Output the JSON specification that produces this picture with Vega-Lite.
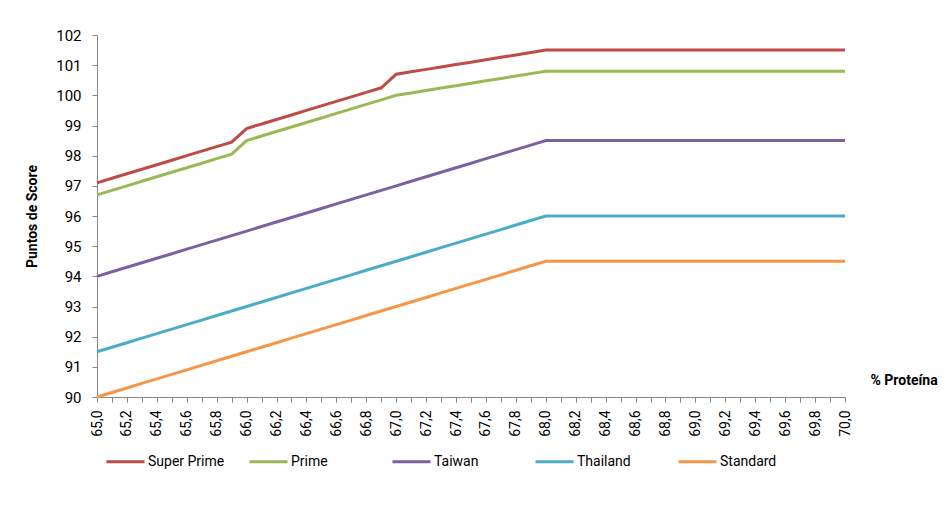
{
  "$schema": "https://vega.github.io/schema/vega-lite/v6.json",
  "width": 748,
  "height": 362,
  "autosize": {"type": "none"},
  "padding": {"left": 97, "top": 35, "right": 105, "bottom": 124},
  "background": "white",
  "config": {"view": {"stroke": null}, "font": "Roboto"},
  "data": {"values": [
    {"p":"65,0","Super Prime":97.10,"Prime":96.70,"Taiwan":94.00,"Thailand":91.50,"Standard":90.00},
    {"p":"65,1","Super Prime":97.25,"Prime":96.85,"Taiwan":94.15,"Thailand":91.65,"Standard":90.15},
    {"p":"65,2","Super Prime":97.40,"Prime":97.00,"Taiwan":94.30,"Thailand":91.80,"Standard":90.30},
    {"p":"65,3","Super Prime":97.55,"Prime":97.15,"Taiwan":94.45,"Thailand":91.95,"Standard":90.45},
    {"p":"65,4","Super Prime":97.70,"Prime":97.30,"Taiwan":94.60,"Thailand":92.10,"Standard":90.60},
    {"p":"65,5","Super Prime":97.85,"Prime":97.45,"Taiwan":94.75,"Thailand":92.25,"Standard":90.75},
    {"p":"65,6","Super Prime":98.00,"Prime":97.60,"Taiwan":94.90,"Thailand":92.40,"Standard":90.90},
    {"p":"65,7","Super Prime":98.15,"Prime":97.75,"Taiwan":95.05,"Thailand":92.55,"Standard":91.05},
    {"p":"65,8","Super Prime":98.30,"Prime":97.90,"Taiwan":95.20,"Thailand":92.70,"Standard":91.20},
    {"p":"65,9","Super Prime":98.45,"Prime":98.05,"Taiwan":95.35,"Thailand":92.85,"Standard":91.35},
    {"p":"66,0","Super Prime":98.90,"Prime":98.50,"Taiwan":95.50,"Thailand":93.00,"Standard":91.50},
    {"p":"66,1","Super Prime":99.05,"Prime":98.65,"Taiwan":95.65,"Thailand":93.15,"Standard":91.65},
    {"p":"66,2","Super Prime":99.20,"Prime":98.80,"Taiwan":95.80,"Thailand":93.30,"Standard":91.80},
    {"p":"66,3","Super Prime":99.35,"Prime":98.95,"Taiwan":95.95,"Thailand":93.45,"Standard":91.95},
    {"p":"66,4","Super Prime":99.50,"Prime":99.10,"Taiwan":96.10,"Thailand":93.60,"Standard":92.10},
    {"p":"66,5","Super Prime":99.65,"Prime":99.25,"Taiwan":96.25,"Thailand":93.75,"Standard":92.25},
    {"p":"66,6","Super Prime":99.80,"Prime":99.40,"Taiwan":96.40,"Thailand":93.90,"Standard":92.40},
    {"p":"66,7","Super Prime":99.95,"Prime":99.55,"Taiwan":96.55,"Thailand":94.05,"Standard":92.55},
    {"p":"66,8","Super Prime":100.10,"Prime":99.70,"Taiwan":96.70,"Thailand":94.20,"Standard":92.70},
    {"p":"66,9","Super Prime":100.25,"Prime":99.85,"Taiwan":96.85,"Thailand":94.35,"Standard":92.85},
    {"p":"67,0","Super Prime":100.70,"Prime":100.00,"Taiwan":97.00,"Thailand":94.50,"Standard":93.00},
    {"p":"67,1","Super Prime":100.78,"Prime":100.08,"Taiwan":97.15,"Thailand":94.65,"Standard":93.15},
    {"p":"67,2","Super Prime":100.86,"Prime":100.16,"Taiwan":97.30,"Thailand":94.80,"Standard":93.30},
    {"p":"67,3","Super Prime":100.94,"Prime":100.24,"Taiwan":97.45,"Thailand":94.95,"Standard":93.45},
    {"p":"67,4","Super Prime":101.02,"Prime":100.32,"Taiwan":97.60,"Thailand":95.10,"Standard":93.60},
    {"p":"67,5","Super Prime":101.10,"Prime":100.40,"Taiwan":97.75,"Thailand":95.25,"Standard":93.75},
    {"p":"67,6","Super Prime":101.18,"Prime":100.48,"Taiwan":97.90,"Thailand":95.40,"Standard":93.90},
    {"p":"67,7","Super Prime":101.26,"Prime":100.56,"Taiwan":98.05,"Thailand":95.55,"Standard":94.05},
    {"p":"67,8","Super Prime":101.34,"Prime":100.64,"Taiwan":98.20,"Thailand":95.70,"Standard":94.20},
    {"p":"67,9","Super Prime":101.42,"Prime":100.72,"Taiwan":98.35,"Thailand":95.85,"Standard":94.35},
    {"p":"68,0","Super Prime":101.50,"Prime":100.80,"Taiwan":98.50,"Thailand":96.00,"Standard":94.50},
    {"p":"68,1","Super Prime":101.50,"Prime":100.80,"Taiwan":98.50,"Thailand":96.00,"Standard":94.50},
    {"p":"68,2","Super Prime":101.50,"Prime":100.80,"Taiwan":98.50,"Thailand":96.00,"Standard":94.50},
    {"p":"68,3","Super Prime":101.50,"Prime":100.80,"Taiwan":98.50,"Thailand":96.00,"Standard":94.50},
    {"p":"68,4","Super Prime":101.50,"Prime":100.80,"Taiwan":98.50,"Thailand":96.00,"Standard":94.50},
    {"p":"68,5","Super Prime":101.50,"Prime":100.80,"Taiwan":98.50,"Thailand":96.00,"Standard":94.50},
    {"p":"68,6","Super Prime":101.50,"Prime":100.80,"Taiwan":98.50,"Thailand":96.00,"Standard":94.50},
    {"p":"68,7","Super Prime":101.50,"Prime":100.80,"Taiwan":98.50,"Thailand":96.00,"Standard":94.50},
    {"p":"68,8","Super Prime":101.50,"Prime":100.80,"Taiwan":98.50,"Thailand":96.00,"Standard":94.50},
    {"p":"68,9","Super Prime":101.50,"Prime":100.80,"Taiwan":98.50,"Thailand":96.00,"Standard":94.50},
    {"p":"69,0","Super Prime":101.50,"Prime":100.80,"Taiwan":98.50,"Thailand":96.00,"Standard":94.50},
    {"p":"69,1","Super Prime":101.50,"Prime":100.80,"Taiwan":98.50,"Thailand":96.00,"Standard":94.50},
    {"p":"69,2","Super Prime":101.50,"Prime":100.80,"Taiwan":98.50,"Thailand":96.00,"Standard":94.50},
    {"p":"69,3","Super Prime":101.50,"Prime":100.80,"Taiwan":98.50,"Thailand":96.00,"Standard":94.50},
    {"p":"69,4","Super Prime":101.50,"Prime":100.80,"Taiwan":98.50,"Thailand":96.00,"Standard":94.50},
    {"p":"69,5","Super Prime":101.50,"Prime":100.80,"Taiwan":98.50,"Thailand":96.00,"Standard":94.50},
    {"p":"69,6","Super Prime":101.50,"Prime":100.80,"Taiwan":98.50,"Thailand":96.00,"Standard":94.50},
    {"p":"69,7","Super Prime":101.50,"Prime":100.80,"Taiwan":98.50,"Thailand":96.00,"Standard":94.50},
    {"p":"69,8","Super Prime":101.50,"Prime":100.80,"Taiwan":98.50,"Thailand":96.00,"Standard":94.50},
    {"p":"69,9","Super Prime":101.50,"Prime":100.80,"Taiwan":98.50,"Thailand":96.00,"Standard":94.50},
    {"p":"70,0","Super Prime":101.50,"Prime":100.80,"Taiwan":98.50,"Thailand":96.00,"Standard":94.50}
  ]},
  "transform": [
    {"fold": ["Super Prime", "Prime", "Taiwan", "Thailand", "Standard"], "as": ["serie", "score"]}
  ],
  "mark": {"type": "line", "strokeWidth": 3},
  "encoding": {
    "x": {
      "field": "p", "type": "ordinal", "sort": null,
      "scale": {"type": "point", "padding": 0},
      "axis": {
        "title": "% Proteína",
        "titleFontWeight": "bold",
        "titleFontSize": 14,
        "titleColor": "black",
        "titleAlign": "left",
        "titleBaseline": "middle",
        "titleAngle": 0,
        "titleX": 773,
        "titleY": -17,
        "labelAngle": 270,
        "labelFontSize": 14,
        "labelColor": "black",
        "labelPadding": 8,
        "labelExpr": "indexof('02468', substring(datum.value, 3, 4)) >= 0 ? datum.value : ''",
        "tickSize": 5,
        "tickColor": "#868686",
        "domainColor": "#868686",
        "grid": false
      }
    },
    "y": {
      "field": "score", "type": "quantitative",
      "scale": {"domain": [90, 102], "nice": false, "zero": false},
      "axis": {
        "title": "Puntos de Score",
        "titleFontWeight": "bold",
        "titleFontSize": 14,
        "titleColor": "black",
        "titlePadding": 16,
        "values": [90,91,92,93,94,95,96,97,98,99,100,101,102],
        "labelFontSize": 15,
        "labelColor": "black",
        "labelPadding": 11,
        "tickSize": 5,
        "tickColor": "#868686",
        "domainColor": "#868686",
        "grid": false
      }
    },
    "color": {
      "field": "serie", "type": "nominal",
      "scale": {
        "domain": ["Super Prime", "Prime", "Taiwan", "Thailand", "Standard"],
        "range": ["#BE4B48", "#98B954", "#7D60A0", "#4BACC6", "#F79646"]
      },
      "legend": {
        "title": null,
        "orient": "none",
        "legendX": 8,
        "legendY": 406,
        "direction": "horizontal",
        "columns": 5,
        "gridAlign": "all",
        "columnPadding": 18,
        "symbolType": "stroke",
        "symbolSize": 1444,
        "symbolStrokeWidth": 3,
        "labelOffset": 2,
        "labelFontSize": 14,
        "labelColor": "black"
      }
    }
  }
}
